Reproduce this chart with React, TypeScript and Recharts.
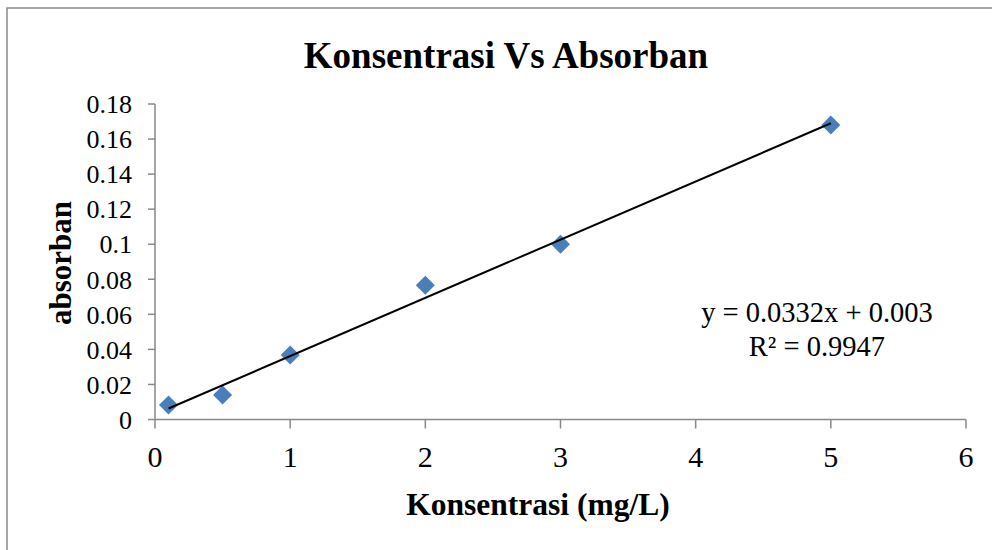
import { ScatterChart, Scatter, XAxis, YAxis } from 'recharts';

// values
const konsentrasi = [0.1, 0.5, 1, 2, 3, 5];
const absorban = [0.0083, 0.014, 0.0368, 0.0766, 0.1, 0.168];

// trendline ends, as drawn in the picture
const trendX = [0.1, 5];
const trendY = [0.0063, 0.169];

const xTicks = [0, 1, 2, 3, 4, 5, 6];
const yTicks = [0, 0.02, 0.04, 0.06, 0.08, 0.1, 0.12, 0.14, 0.16, 0.18];

const title = 'Konsentrasi Vs Absorban';
const xTitle = 'Konsentrasi (mg/L)';
const yTitle = 'absorban';
const equation = 'y = 0.0332x + 0.003';
const rSquared = 'R² = 0.9947';

const points = konsentrasi.map((x, i) => ({ x, y: absorban[i] }));
const trend = trendX.map((x, i) => ({ x, y: trendY[i] }));

const FONT = '"Liberation Serif", "Times New Roman", serif';
const AXIS = '#898989';

const Diamond = (props: any) => {
    const { cx, cy } = props;
    const r = 9.5;
    return (
        <polygon
            points={`${cx},${cy - r} ${cx + r},${cy} ${cx},${cy + r} ${cx - r},${cy}`}
            fill="#4A7EBB"
        />
    );
};

export default function App() {
    return (
        <div style={{ position: 'absolute', left: 0, top: 0, width: 992, height: 550, background: '#fff' }}>
            <ScatterChart
                width={992}
                height={550}
                margin={{ top: 104, right: 26, left: 0, bottom: 0 }}
                style={{ fontFamily: FONT }}
            >
                <rect x={7} y={8} width={1100} height={700} fill="none" stroke={AXIS} strokeWidth={1.5} />
                <text x={506} y={68} textAnchor="middle" fontSize={37} fontWeight="bold" fill="#000" fontFamily={FONT}>
                    {title}
                </text>
                <text x={538} y={515} textAnchor="middle" fontSize={31.5} fontWeight="bold" fill="#000" fontFamily={FONT}>
                    {xTitle}
                </text>
                <text
                    x={71}
                    y={263}
                    textAnchor="middle"
                    fontSize={31}
                    fontWeight="bold"
                    fill="#000"
                    fontFamily={FONT}
                    transform="rotate(-90, 71, 263)"
                >
                    {yTitle}
                </text>
                <text x={817} y={322} textAnchor="middle" fontSize={28.5} fill="#000" fontFamily={FONT}>
                    {equation}
                </text>
                <text x={817} y={356} textAnchor="middle" fontSize={28.5} fill="#000" fontFamily={FONT}>
                    {rSquared}
                </text>
                <XAxis
                    type="number"
                    dataKey="x"
                    domain={[0, 6]}
                    ticks={xTicks}
                    height={130.5}
                    stroke={AXIS}
                    strokeWidth={1.5}
                    tickSize={9}
                    tickMargin={17}
                    tick={{ fill: '#000', fontSize: 30, fontFamily: FONT }}
                    interval={0}
                />
                <YAxis
                    type="number"
                    dataKey="y"
                    domain={[0, 0.18]}
                    ticks={yTicks}
                    width={155}
                    stroke={AXIS}
                    strokeWidth={1.5}
                    tickSize={7}
                    tickMargin={16}
                    tick={{ fill: '#000', fontSize: 26, fontFamily: FONT }}
                    tickFormatter={(v: number) => String(Number(v.toFixed(2)))}
                    interval={0}
                />
                <Scatter data={points} shape={Diamond} isAnimationActive={false} />
                <Scatter
                    data={trend}
                    line={{ stroke: '#000', strokeWidth: 2 }}
                    shape={() => <g />}
                    isAnimationActive={false}
                />
            </ScatterChart>
        </div>
    );
}
